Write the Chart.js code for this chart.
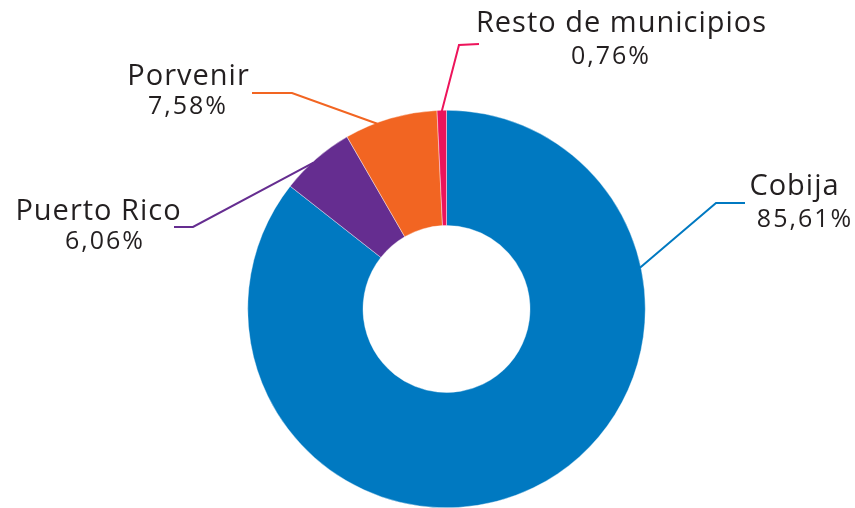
<!DOCTYPE html>
<html lang="es">
<head>
  <meta charset="UTF-8" />
  <title>Participación por municipio</title>
  <script src="https://cdn.jsdelivr.net/npm/chart.js"></script>
  <style>
    html, body { margin: 0; padding: 0; background: #fff; }
    #shareChart { display: block; }
  </style>
</head>
<body>
  <canvas id="shareChart" width="855" height="508"></canvas>

  <script>
    // Municipios y su participación (%)
    const municipios = ["Cobija", "Puerto Rico", "Porvenir", "Resto de municipios"];
    const participacion = [85.61, 6.06, 7.58, 0.76];
    const colores = ["#0079c1", "#652d90", "#f26522", "#ed145b"];

    // Label layout: where on the arc the leader starts (fraction of the slice),
    // the elbow and end of the leader, and where the two text lines sit.
    const etiquetas = [
      { at: 0.253, elbow: [716, 203], end: [745, 203], name: [794, 195], value: [804, 227] },
      { at: 0.44,  elbow: [193, 227], end: [174, 227], name: [98, 220],  value: [104, 249] },
      { at: 0.35,  elbow: [292, 93],  end: [252, 93],  name: [188, 85],  value: [187, 114] },
      { at: 0.5,   elbow: [459, 45],  end: [479, 44],  name: [621, 32],  value: [610, 64] }
    ];

    function formatPct(v) {
      return v.toFixed(2).replace(".", ",") + "%";
    }

    // Centered text with extra tracking (canvas letterSpacing adds a trailing gap).
    function spacedText(ctx, text, x, y, spacing) {
      ctx.letterSpacing = spacing + "px";
      ctx.fillText(text, x + spacing / 2, y);
      ctx.letterSpacing = "0px";
    }

    // Draws leader lines and labels for every slice.
    const leaderLabels = {
      id: "leaderLabels",
      afterDraw(chart) {
        const ctx = chart.ctx;
        const meta = chart.getDatasetMeta(0);
        meta.data.forEach((arc, i) => {
          const cfg = etiquetas[i];
          const p = arc.getProps(["x", "y", "startAngle", "endAngle", "outerRadius"], true);
          const a = p.startAngle + (p.endAngle - p.startAngle) * cfg.at;
          const sx = p.x + Math.cos(a) * (p.outerRadius - 1);
          const sy = p.y + Math.sin(a) * (p.outerRadius - 1);

          ctx.save();
          ctx.strokeStyle = colores[i];
          ctx.lineWidth = 2;
          ctx.lineJoin = "miter";
          ctx.beginPath();
          ctx.moveTo(sx, sy);
          ctx.lineTo(cfg.elbow[0], cfg.elbow[1]);
          ctx.lineTo(cfg.end[0], cfg.end[1]);
          ctx.stroke();

          ctx.fillStyle = "#231f20";
          ctx.textAlign = "center";
          ctx.textBaseline = "alphabetic";
          ctx.font = "400 29px 'Open Sans'";
          spacedText(ctx, municipios[i], cfg.name[0], cfg.name[1], 1);
          ctx.font = "400 25px 'Open Sans'";
          spacedText(ctx, formatPct(participacion[i]), cfg.value[0], cfg.value[1], 2);
          ctx.restore();
        });
      }
    };

    new Chart(document.getElementById("shareChart"), {
      type: "doughnut",
      data: {
        labels: municipios,
        datasets: [{
          data: participacion,
          backgroundColor: colores,
          borderColor: "#ffffff",
          borderWidth: 0.4,
          hoverOffset: 0
        }]
      },
      options: {
        responsive: false,
        animation: false,
        cutout: "42%",
        layout: { padding: { top: 110, bottom: 0, left: 38, right: 0 } },
        plugins: {
          legend: { display: false },
          tooltip: { enabled: false }
        }
      },
      plugins: [leaderLabels]
    });
  </script>
</body>
</html>
